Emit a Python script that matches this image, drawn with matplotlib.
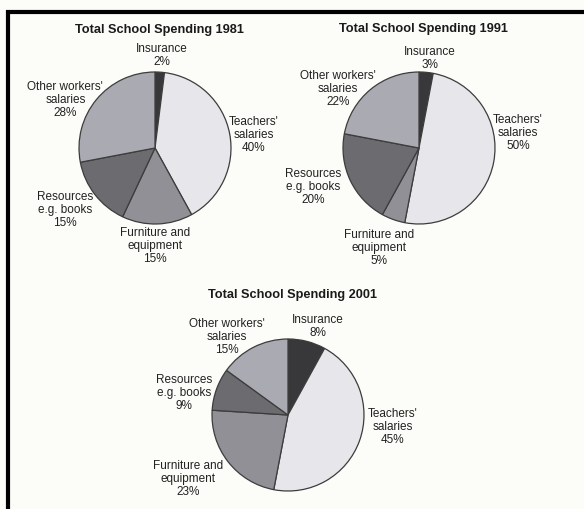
#!/usr/bin/env python3
"""
Three pie charts: total school spending in 1981, 1991 and 2001.
Saves out.png (584x509).
"""

import matplotlib.pyplot as plt

W, H = 584, 509

# Categories in drawing order (clockwise from 12 o'clock)
categories = [
    "Insurance",
    "Teachers'\nsalaries",
    "Furniture and\nequipment",
    "Resources\ne.g. books",
    "Other workers'\nsalaries",
]

# Share of spending, %
spend_1981 = [2, 40, 15, 15, 28]
spend_1991 = [3, 50, 5, 20, 22]
spend_2001 = [8, 45, 23, 9, 15]

years = ["1981", "1991", "2001"]

colors = ["#38383a", "#e7e7eb", "#909096", "#6b6b70", "#aaaab2"]

# Layout (pixels, y measured from the top of the picture)
PIE_R = 76
centers = [(155, 148), (419, 148), (288, 415)]
title_y = [30, 29, 295]
# label offsets from the pie centre, in radius units (y up)
label_offsets = [
    [(0.09, 1.22), (1.30, 0.17), (0.00, -1.29), (-1.18, -0.82), (-1.18, 0.63)],
    [(0.14, 1.18), (1.30, 0.20), (-0.53, -1.32), (-1.39, -0.51), (-1.07, 0.78)],
    [(0.39, 1.16), (1.38, -0.16), (-1.32, -0.84), (-1.37, 0.29), (-0.80, 1.03)],
]


def main():
    plt.rcParams["font.family"] = ["Liberation Sans", "DejaVu Sans"]

    fig = plt.figure(figsize=(W / 100, H / 100), dpi=100)
    fig.patch.set_facecolor("#fcfcf9")
    ax = fig.add_axes([0, 0, 1, 1])

    all_values = [spend_1981, spend_1991, spend_2001]
    for values, year, (cx, cy), ty, offsets in zip(
        all_values, years, centers, title_y, label_offsets
    ):
        ax.pie(
            values,
            colors=colors,
            startangle=90,
            counterclock=False,
            center=(cx, H - cy),
            radius=PIE_R,
            wedgeprops=dict(edgecolor="#3c3c3c", linewidth=0.9),
        )
        ax.text(cx + 4, H - ty, f"Total School Spending {year}",
                ha="center", va="center", fontsize=9.2, fontweight="bold",
                color="#1a1a1a")
        for name, val, (dx, dy) in zip(categories, values, offsets):
            ax.text(cx + dx * PIE_R, H - cy + dy * PIE_R, f"{name}\n{val}%",
                    ha="center", va="center", fontsize=8.5, color="#222222",
                    linespacing=1.12)

    ax.set_xlim(0, W)
    ax.set_ylim(0, H)
    ax.set_aspect("equal")
    ax.axis("off")

    # scanned page frame: top and left black rules
    ax.plot([6, W], [H - 12, H - 12], color="black", lw=3.0,
            solid_capstyle="butt")
    ax.plot([8, 8], [H - 10, 0], color="black", lw=3.0,
            solid_capstyle="butt")

    fig.savefig("out.png", dpi=100, facecolor=fig.get_facecolor())
    plt.close(fig)


if __name__ == "__main__":
    main()
